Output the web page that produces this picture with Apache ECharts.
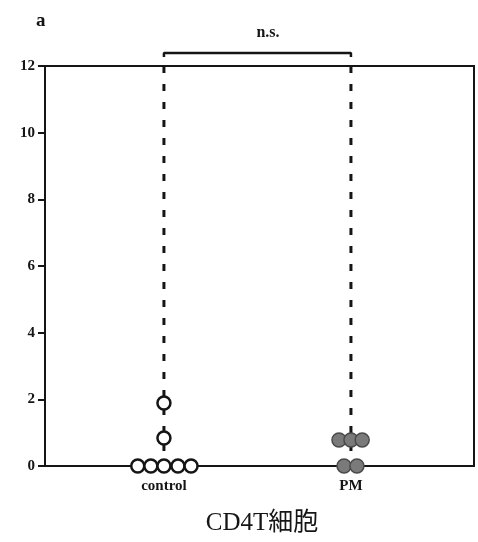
<!DOCTYPE html>
<html>
<head>
<meta charset="utf-8">
<script src="https://cdn.jsdelivr.net/npm/echarts@6/dist/echarts.min.js"></script>
<style>
html,body{margin:0;padding:0;background:#fff;}
#chart{width:478px;height:542px;}
</style>
</head>
<body>
<div id="chart"></div>
<script>
// ---- data ----
const groups = ['control', 'PM'];
const groupPos = [1, 2];
// control (open circles): x position (group 1 + jitter), value
const controlX = [1.0, 1.0, 0.86, 0.93, 1.0, 1.075, 1.145];
const controlY = [1.89, 0.84, 0, 0, 0, 0, 0];
// PM (filled circles)
const pmX = [1.936, 2.0, 2.06, 1.963, 2.032];
const pmY = [0.78, 0.78, 0.78, 0, 0];
const yTicks = [0, 2, 4, 6, 8, 10, 12];
const bracketY = [12.27, 12.39];
const panelLabel = 'a';
const sigLabel = 'n.s.';
const title = 'CD4T細胞';

const serif = '"Liberation Serif", "DejaVu Serif", serif';
const ink = '#151515';

const chart = echarts.init(document.getElementById('chart'));
chart.setOption({
  backgroundColor: '#fff',
  animation: false,
  grid: {
    left: 45, right: 4, top: 66, bottom: 76,
    show: true, borderColor: ink, borderWidth: 2, backgroundColor: 'transparent'
  },
  xAxis: {
    type: 'value', min: 0.364, max: 2.658,
    axisLine: { show: false }, axisTick: { show: false }, splitLine: { show: false },
    axisLabel: {
      customValues: groupPos,
      formatter: v => groups[groupPos.indexOf(v)] || '',
      fontFamily: serif, fontSize: 15, fontWeight: 'bold', color: ink, margin: 13
    }
  },
  yAxis: {
    type: 'value', min: yTicks[0], max: yTicks[yTicks.length - 1], interval: 2,
    axisLine: { show: false },
    axisTick: { show: true, length: 7, lineStyle: { color: ink, width: 2 } },
    splitLine: { show: false },
    axisLabel: { fontFamily: serif, fontSize: 15, fontWeight: 'bold', color: ink, margin: 10 }
  },
  series: [
    {
      type: 'line', symbol: 'none', z: 1, clip: false,
      data: [[groupPos[0], yTicks[yTicks.length - 1]], [groupPos[0], 0]],
      lineStyle: { color: ink, width: 3, type: [7, 11] }
    },
    {
      type: 'line', symbol: 'none', z: 1, clip: false,
      data: [[groupPos[1], yTicks[yTicks.length - 1]], [groupPos[1], 0]],
      lineStyle: { color: ink, width: 3, type: [7, 11] }
    },
    {
      type: 'line', symbol: 'none', z: 1, clip: false,
      data: [[groupPos[0], bracketY[0]], [groupPos[0], bracketY[1]], [groupPos[1], bracketY[1]], [groupPos[1], bracketY[0]]],
      lineStyle: { color: ink, width: 2.5 }
    },
    {
      type: 'scatter', z: 5, clip: false,
      symbol: 'circle', symbolSize: [13, 13],
      data: controlX.map((x, i) => [x, controlY[i]]),
      itemStyle: { color: '#fff', borderColor: ink, borderWidth: 2.5, opacity: 1 }
    },
    {
      type: 'scatter', z: 5, clip: false,
      symbol: 'circle', symbolSize: [14, 14],
      data: pmX.map((x, i) => [x, pmY[i]]),
      itemStyle: { color: '#7a7a7a', borderColor: '#4a4a4a', borderWidth: 1.5, opacity: 1 }
    }
  ],
  graphic: [
    { type: 'text', left: 36, top: 12, style: { text: panelLabel, font: 'bold 19px ' + serif, fill: ink } },
    { type: 'text', x: 268, y: 33, style: { text: sigLabel, font: 'bold 16px ' + serif, fill: ink, align: 'center', verticalAlign: 'middle' } },
    { type: 'text', x: 262, y: 523, style: { text: title, font: '25px ' + serif + ', "Noto Sans CJK JP"', fill: ink, align: 'center', verticalAlign: 'middle' } }
  ]
});
</script>
</body>
</html>
